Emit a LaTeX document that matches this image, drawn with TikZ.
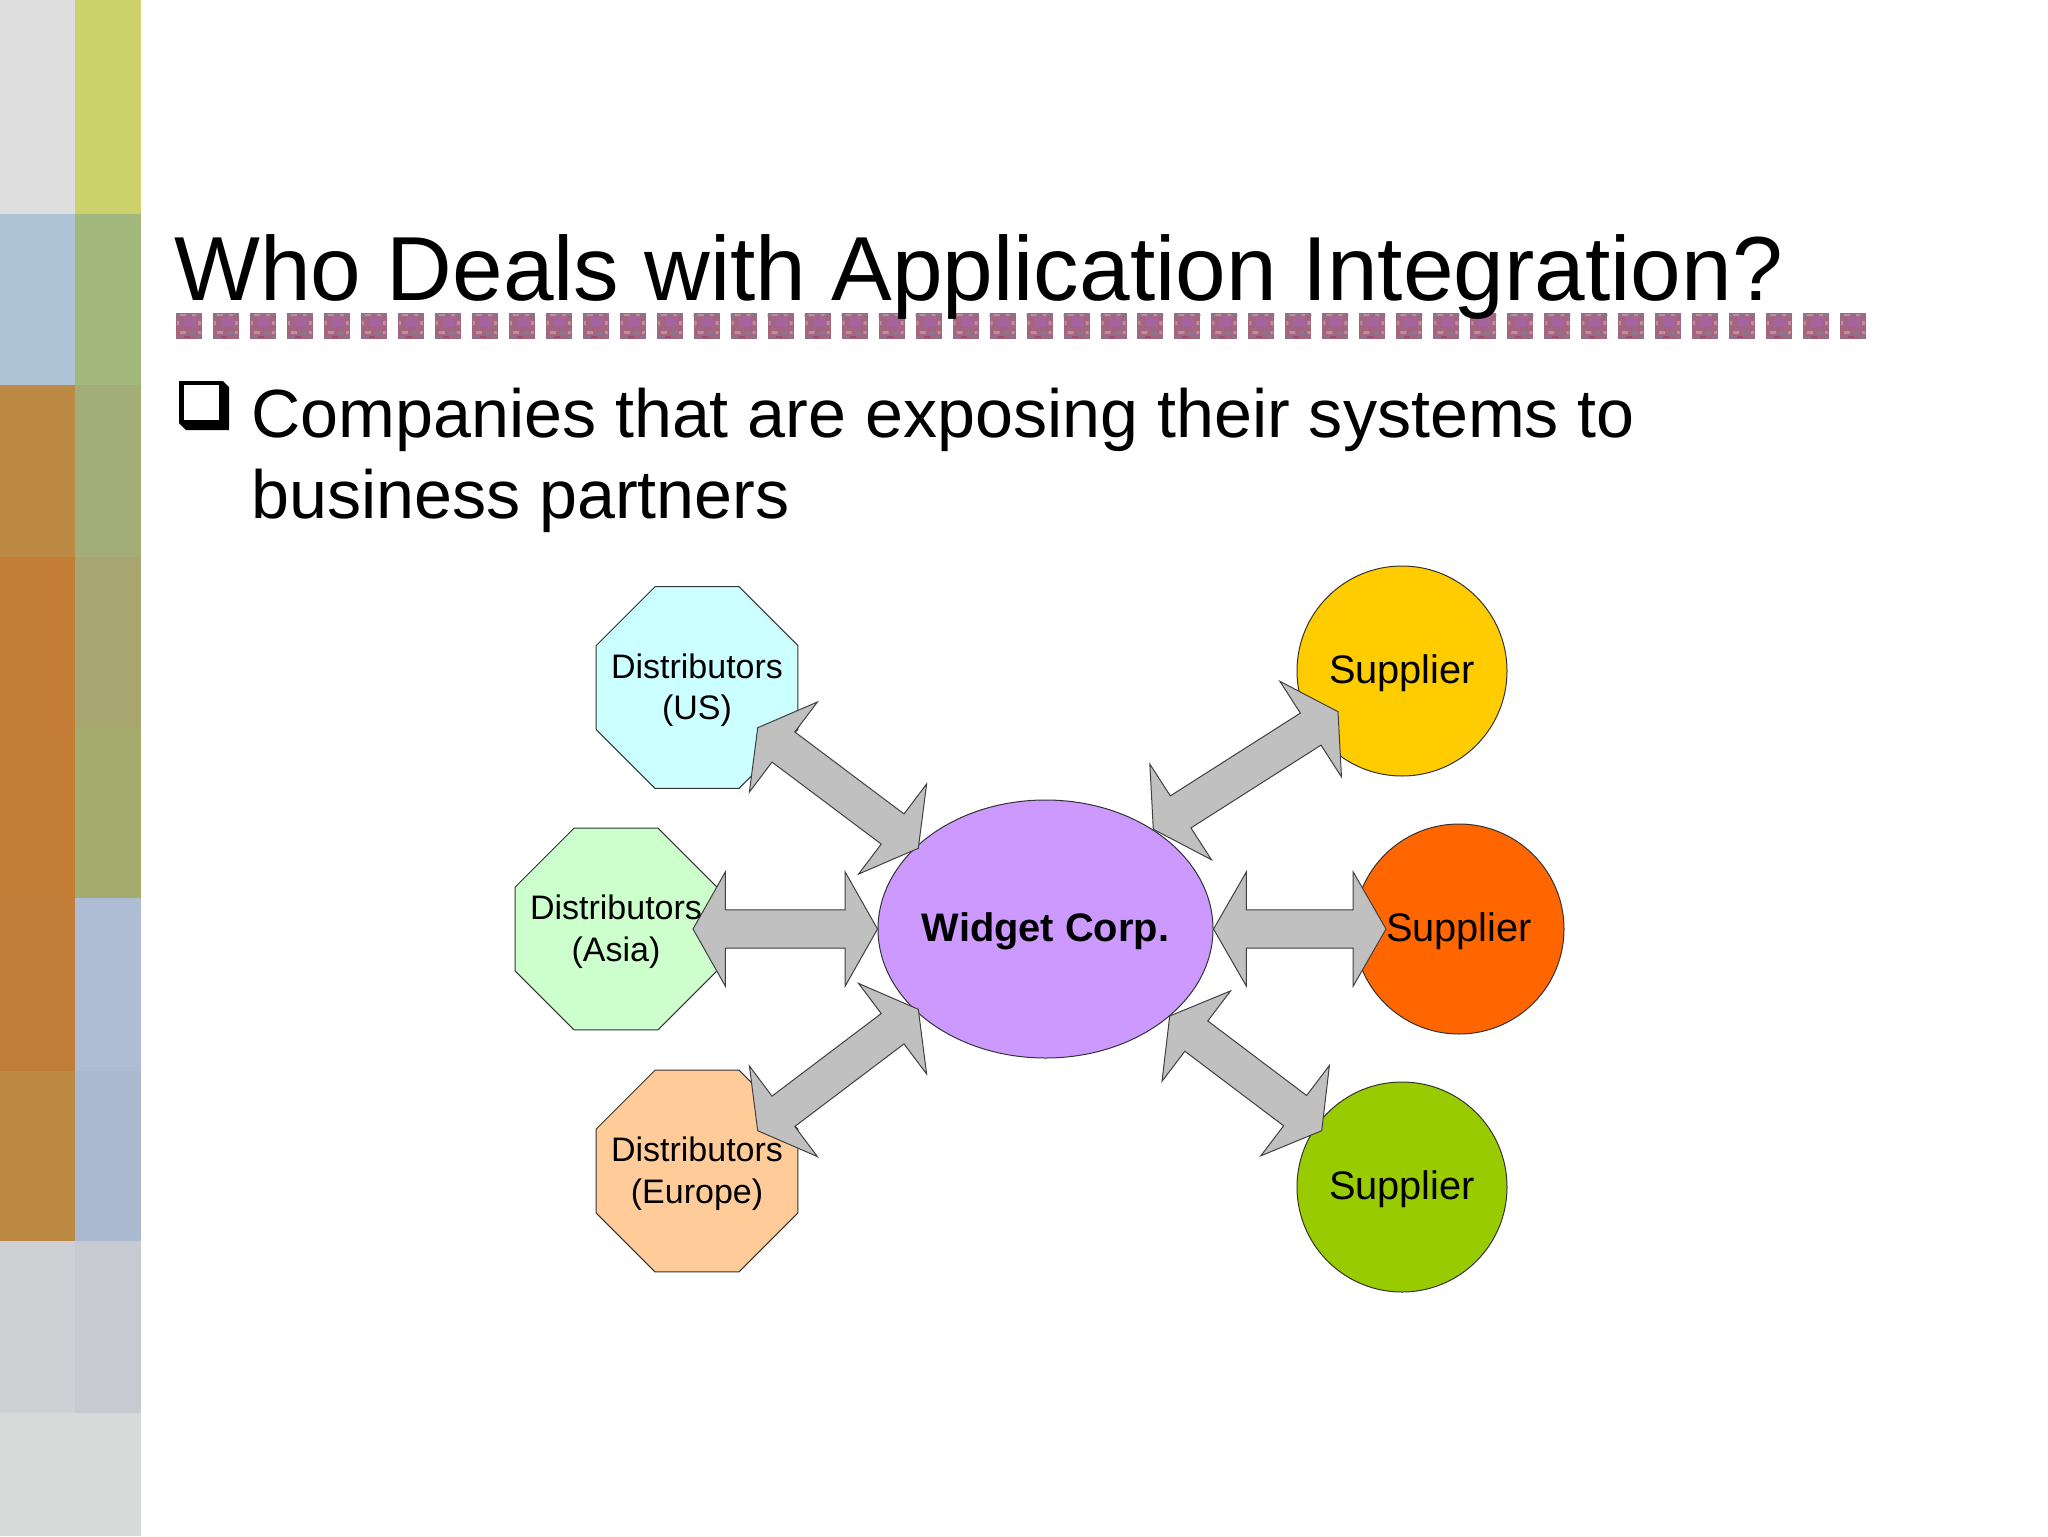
\documentclass[tikz,border=0pt]{standalone}
\usepackage{fontspec}
\setmainfont{Liberation Sans}
\usepackage{tikz}
\usetikzlibrary{calc, positioning, shapes.geometric}

\definecolor{beadbase}{HTML}{A5657F}
\definecolor{beadpurple}{HTML}{A464A0}
\definecolor{beadpink}{HTML}{C08CA0}
\definecolor{beadgray}{HTML}{8A7490}
\definecolor{beadred}{HTML}{A04C70}

\tikzset{
  outline/.style={draw=black!80, line width=0.5pt, inner sep=0pt, align=center},
  dist/.style={outline, regular polygon, regular polygon sides=8, minimum size=109.3pt},
  supplier/.style={outline, circle, minimum size=105pt},
  hub/.style={outline, ellipse, minimum width=167.5pt, minimum height=129pt, fill=hubfill},
  fatarrow/.style={draw=black!75, line width=0.5pt, fill=arrowfill},
  label/.style={font=\fontsize{17}{20.8}\selectfont, inner sep=0pt, align=center, yshift=-1.25pt},
  bigger/.style={font=\fontsize{19.9}{22}\selectfont},
  bead/.pic={
    \fill[beadbase] (0,0) rectangle (26,26);
    \fill[beadpurple] (8,4) rectangle (20,14);
    \fill[beadgray] (0,1) rectangle (4,4) (10,1) rectangle (14,3) (20,1) rectangle (26,3);
    \fill[beadpink] (4,1) rectangle (10,3) (16,1) rectangle (20,3) (1,8) rectangle (3,12) (22,8) rectangle (25,12);
    \fill[beadpink] (4,18) rectangle (10,21) (22,18) rectangle (25,21);
    \fill[beadgray] (14,18) rectangle (20,22) (1,23) rectangle (8,25) (20,23) rectangle (25,25);
    \fill[beadred] (8,23) rectangle (14,25);
  }
}
\definecolor{hubfill}{HTML}{CC99FF}
\definecolor{arrowfill}{HTML}{C0C0C0}

\newcommand{\fatarrow}[4]{%
  \draw[fatarrow] (#1)
    -- ($(#1)!#3!(#2)+(#4)$)
    -- ($(#1)!#3!(#2)+.335*(#4)$)
    -- ($(#2)!#3!(#1)+.335*(#4)$)
    -- ($(#2)!#3!(#1)+(#4)$)
    -- (#2)
    -- ($(#2)!#3!(#1)-(#4)$)
    -- ($(#2)!#3!(#1)-.335*(#4)$)
    -- ($(#1)!#3!(#2)-.335*(#4)$)
    -- ($(#1)!#3!(#2)-(#4)$)
    -- cycle;}

\begin{document}
\begin{tikzpicture}[x=0.5pt, y=-0.5pt]
  \useasboundingbox (0,0) rectangle (2048,1536);

  % side bars
  \foreach \ya/\yb/\cola/\colb in {0/214/DEDEDE/CDD16A, 214/385/B0C4D8/A3B87C, 385/557/BC8A45/A3AD78,
      557/728/C47D35/A8A571, 728/898/C47D35/A3AC6C, 898/1071/C07E38/AEBDD4, 1071/1241/BC8A45/AAB9CF,
      1241/1413/CFD0D4/C8CAD2, 1413/1536/D8DADA/D8DADA} {
    \definecolor{barleft}{HTML}{\cola}
    \definecolor{barright}{HTML}{\colb}
    \fill[barleft] (0,\ya) rectangle (75,\yb);
    \fill[barright] (75,\ya) rectangle (141,\yb);
  }

  % row of beads under the title
  \foreach \i in {0,...,45}
    \pic at ({176+36.98*\i},313) {bead};

  \node[anchor=base west, inner sep=0pt, font=\fontsize{45.5}{50}\selectfont] (title) at (174,300)
    {Who Deals with Application Integration?};

  % bullet
  \fill[black] (179,381) -- (223,381) -- (229,387) -- (229,430) -- (186,430) -- (179,423) -- cycle;
  \fill[white] (184,385) rectangle (219,420);
  \node[anchor=base west, inner sep=0pt, font=\fontsize{34.1}{34}\selectfont] (lineone) at (251,437)
    {Companies that are exposing their systems to};
  \node[anchor=base west, inner sep=0pt, font=\fontsize{34.1}{34}\selectfont] (linetwo) at (251,518)
    {business partners};

  % shapes
  \node[dist, fill={rgb,255:red,204;green,255;blue,255}] (us)     at (697,687.5) {};
  \node[dist, fill={rgb,255:red,204;green,255;blue,204}] (asia)   at (616,929)   {};
  \node[dist, fill={rgb,255:red,255;green,204;blue,153}] (europe) at (697,1171)  {};
  \node[hub] (widget) at (1045.5,929) {};
  \node[supplier, fill={rgb,255:red,255;green,204;blue,0}]  (supa) at (1402,671)  {};
  \node[supplier, fill={rgb,255:red,255;green,102;blue,0}]  (supb) at (1459,929)  {};
  \node[supplier, fill={rgb,255:red,153;green,204;blue,0}]  (supc) at (1402,1187) {};

  % arrow ends
  \coordinate (ustip)     at ($(us)+(60.7,40.2)$);
  \coordinate (asiatip)   at ($(asia)+(77,0)$);
  \coordinate (europetip) at ($(europe)+(60.7,-40.3)$);
  \coordinate (supatip)   at ($(supa)+(-64,40.7)$);
  \coordinate (supbtip)   at ($(supb)+(-73,0)$);
  \coordinate (supctip)   at ($(supc)+(-80.3,-56.3)$);
  \coordinate (hubus)     at ($(widget)+(-127.2,-80.7)$);
  \coordinate (hubeurope) at ($(widget)+(-127.2,80.3)$);
  \coordinate (hubsupa)   at ($(widget)+(107.8,-99.7)$);
  \coordinate (hubsupc)   at ($(widget)+(124.2,87)$);

  \fatarrow{ustip}{hubus}{.16}{34,-45}
  \fatarrow{asiatip}{widget.west}{.175}{0,-57}
  \fatarrow{europetip}{hubeurope}{.16}{34,45.3}
  \fatarrow{hubsupa}{supatip}{.148}{30.8,47.8}
  \fatarrow{widget.east}{supbtip}{.19}{0,-57}
  \fatarrow{hubsupc}{supctip}{.175}{34.3,-45.2}

  % labels go over the arrows
  \node[label] (uslabel)     at (us)     {Distributors\\(US)};
  \node[label] (asialabel)   at (asia)   {Distributors\\(Asia)};
  \node[label] (europelabel) at (europe) {Distributors\\(Europe)};
  \node[label, font=\fontsize{19.9}{22}\selectfont\bfseries] (widgetlabel) at (widget) {Widget Corp.};
  \node[label, bigger] (supalabel) at (supa) {Supplier};
  \node[label, bigger] (supblabel) at (supb) {Supplier};
  \node[label, bigger] (supclabel) at (supc) {Supplier};
\end{tikzpicture}
\end{document}
